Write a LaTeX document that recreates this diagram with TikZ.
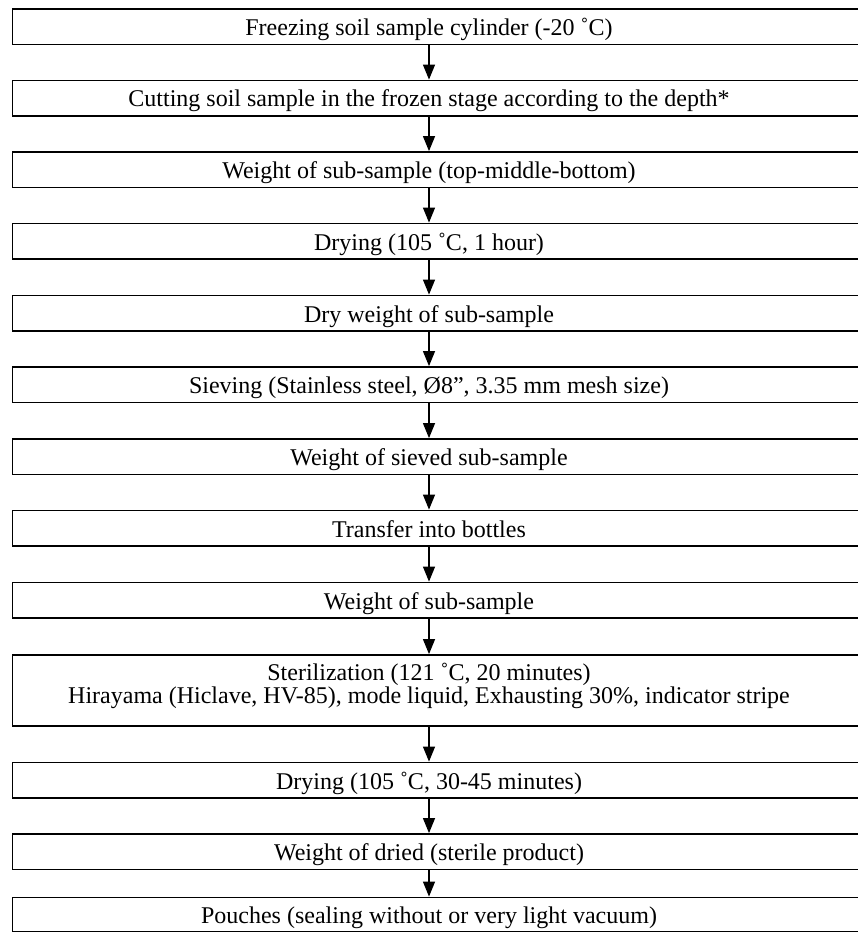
\documentclass[tikz,border=0pt]{standalone}
\usepackage{fontspec}
\setmainfont{Liberation Serif}
\usetikzlibrary{arrows.meta}
\begin{document}
\begin{tikzpicture}[x=1pt,y=-1pt,
  stepbox/.style={draw, line width=1.8pt, minimum width=880pt, inner sep=0pt, outer sep=0pt, anchor=north west},
  steptext/.style={font=\fontsize{24}{28}\selectfont, inner sep=0pt, anchor=base},
  flow/.style={line width=1.2pt, -{Triangle[width=12pt,length=15pt]}, shorten >=0.9pt, shorten <=0.9pt}]
\useasboundingbox (0,0) rectangle (858,933);
\clip (0,0) rectangle (858,933);
% boxes
\node[stepbox, minimum height=35.5pt] (b1) at (12.5,9) {};
\node[stepbox, minimum height=35.5pt] (b2) at (12.5,80.5) {};
\node[stepbox, minimum height=35.5pt] (b3) at (12.5,152) {};
\node[stepbox, minimum height=35.5pt] (b4) at (12.5,223.5) {};
\node[stepbox, minimum height=35.5pt] (b5) at (12.5,295.5) {};
\node[stepbox, minimum height=35.5pt] (b6) at (12.5,367) {};
\node[stepbox, minimum height=35.5pt] (b7) at (12.5,439) {};
\node[stepbox, minimum height=35.5pt] (b8) at (12.5,510.5) {};
\node[stepbox, minimum height=35.5pt] (b9) at (12.5,582.5) {};
\node[stepbox, minimum height=71pt] (b10) at (12.5,655) {};
\node[stepbox, minimum height=35.5pt] (b11) at (12.5,762.5) {};
\node[stepbox, minimum height=35.5pt] (b12) at (12.5,834) {};
\node[stepbox, minimum height=34pt] (b13) at (12.5,897.5) {};
% texts
\node[steptext] (t1) at (429,35.5) {Freezing soil sample cylinder (-20 ˚C)};
\node[steptext] (t2) at (429,107) {Cutting soil sample in the frozen stage according to the depth*};
\node[steptext] (t3) at (429,178.5) {Weight of sub-sample (top-middle-bottom)};
\node[steptext] (t4) at (429,250) {Drying (105 ˚C, 1 hour)};
\node[steptext] (t5) at (429,322) {Dry weight of sub-sample};
\node[steptext] (t6) at (429,393.5) {Sieving (Stainless steel, Ø8”, 3.35 mm mesh size)};
\node[steptext] (t7) at (429,465.5) {Weight of sieved sub-sample};
\node[steptext] (t8) at (429,537) {Transfer into bottles};
\node[steptext] (t9) at (429,609) {Weight of sub-sample};
\node[steptext] (t10a) at (429,680) {Sterilization (121 ˚C, 20 minutes)};
\node[steptext] (t10b) at (429,703) {Hirayama (Hiclave, HV-85), mode liquid, Exhausting 30\%, indicator stripe};
\node[steptext] (t11) at (429,789) {Drying (105 ˚C, 30-45 minutes)};
\node[steptext] (t12) at (429,860.5) {Weight of dried (sterile product)};
\node[steptext] (t13) at (429,923) {Pouches (sealing without or very light vacuum)};
% arrows
\draw[flow] (b1.south -| t1.base) -- (b2.north -| t1.base);
\draw[flow] (b2.south -| t1.base) -- (b3.north -| t1.base);
\draw[flow] (b3.south -| t1.base) -- (b4.north -| t1.base);
\draw[flow] (b4.south -| t1.base) -- (b5.north -| t1.base);
\draw[flow] (b5.south -| t1.base) -- (b6.north -| t1.base);
\draw[flow] (b6.south -| t1.base) -- (b7.north -| t1.base);
\draw[flow] (b7.south -| t1.base) -- (b8.north -| t1.base);
\draw[flow] (b8.south -| t1.base) -- (b9.north -| t1.base);
\draw[flow] (b9.south -| t1.base) -- (b10.north -| t1.base);
\draw[flow] (b10.south -| t1.base) -- (b11.north -| t1.base);
\draw[flow] (b11.south -| t1.base) -- (b12.north -| t1.base);
\draw[flow] (b12.south -| t1.base) -- (b13.north -| t1.base);
\end{tikzpicture}
\end{document}
